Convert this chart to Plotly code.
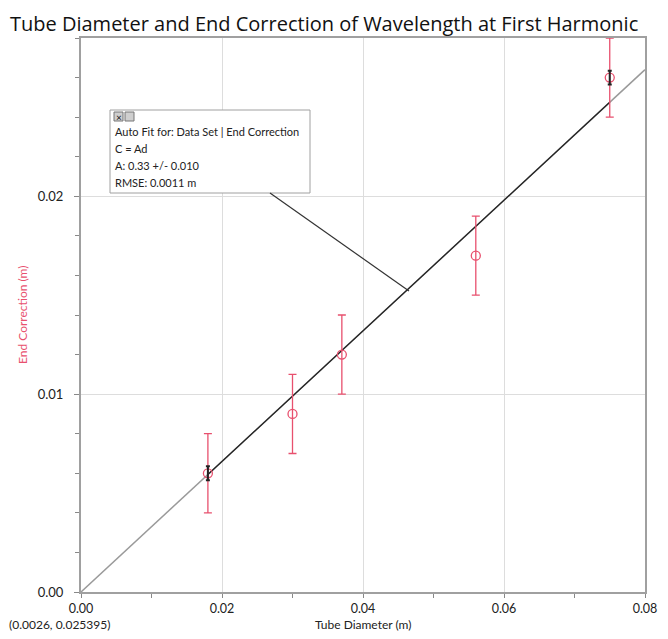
import plotly.graph_objects as go

# Data
diameter = [0.018, 0.030, 0.037, 0.056, 0.075]
end_corr = [0.006, 0.009, 0.012, 0.017, 0.026]
end_err = [0.002, 0.002, 0.002, 0.002, 0.002]
fit_A = 0.33
fit_x_all = [0.0, 0.08]
fit_x_sel = [0.018, 0.075]
bracket_x = [0.018, 0.075]
bracket_y = [0.006, 0.026]
bracket_err = [0.00035, 0.00035]
x_ticks = [0.00, 0.02, 0.04, 0.06, 0.08]
y_ticks = [0.00, 0.01, 0.02]

RED = "#e8506e"
OFF = 8  # page body margin (both sides)
W, H = 668 - 2 * OFF, 639 - 2 * OFF
# reference pixel positions of plot area (in window coords)
RL, RR, RT, RB = 81, 645, 38, 592
L, T = RL - OFF, RT - OFF
R = W - (RR - OFF)
B = H - (RB - OFF)

fig = go.Figure()
fig.add_trace(go.Scatter(x=fit_x_all, y=[fit_A * v for v in fit_x_all], mode="lines",
                         line=dict(color="#9a9a9a", width=1.5), hoverinfo="skip", showlegend=False))
fig.add_trace(go.Scatter(x=fit_x_sel, y=[fit_A * v for v in fit_x_sel], mode="lines",
                         line=dict(color="#222222", width=1.3), hoverinfo="skip", showlegend=False))
fig.add_trace(go.Scatter(x=diameter, y=end_corr, mode="markers",
                         marker=dict(symbol="circle-open", size=9, color=RED, line=dict(width=1.3, color=RED)),
                         error_y=dict(type="data", array=end_err, visible=True, color=RED, thickness=1.3, width=4),
                         showlegend=False))
fig.add_trace(go.Scatter(x=bracket_x, y=bracket_y, mode="markers",
                         marker=dict(size=1, opacity=0),
                         error_y=dict(type="data", array=bracket_err, visible=True, color="#222222", thickness=2, width=2),
                         hoverinfo="skip", showlegend=False))

pw = RR - RL
ph = RB - RT
def px(xp):
    return (xp - RL) / pw
def py(yp):
    return (RB - yp) / ph

shapes = []
shapes.append(dict(type="rect", xref="paper", yref="paper", x0=px(110), x1=px(310), y0=py(193), y1=py(110),
                   line=dict(color="#a0a0a0", width=1), fillcolor="white", layer="above"))
shapes.append(dict(type="line", xref="paper", yref="paper", x0=px(270), y0=py(193), x1=px(409), y1=py(291),
                   line=dict(color="#333333", width=1.2), layer="above"))
for bx in (114, 125):
    shapes.append(dict(type="rect", xref="paper", yref="paper", x0=px(bx), x1=px(bx + 9), y0=py(121), y1=py(112),
                       line=dict(color="#777777", width=1), fillcolor="#cfcfcf", layer="above"))

FONT = "Lato, DejaVu Sans, sans-serif"
annotations = []
lines = ["Auto Fit for: Data Set | End Correction", "C = Ad",
         f"A: {fit_A:.2f} +/- 0.010", "RMSE: 0.0011 m"]
for i, t in enumerate(lines):
    annotations.append(dict(text=t, xref="paper", yref="paper", x=px(113), y=py(131 + 17 * i),
                            xanchor="left", yanchor="middle", showarrow=False,
                            font=dict(size=11, color="#222222", family=FONT)))
annotations.append(dict(text="×", xref="paper", yref="paper", x=px(118.5), y=py(116.5), xanchor="center",
                        yanchor="middle", showarrow=False, font=dict(size=10, color="#111111")))
annotations.append(dict(text="(0.0026, 0.025395)", xref="paper", yref="paper", x=px(8), y=py(624),
                        xanchor="left", yanchor="middle", showarrow=False, borderpad=0,
                        font=dict(size=12, color="#222222", family=FONT)))
# axis titles
annotations.append(dict(text="Tube Diameter (m)", xref="paper", yref="paper", x=px(363), y=py(624),
                        xanchor="center", yanchor="middle", showarrow=False, borderpad=0,
                        font=dict(size=12, color="#222222", family=FONT)))
annotations.append(dict(text="End Correction (m)", xref="paper", yref="paper", x=px(22), y=py(315),
                        xanchor="center", yanchor="middle", textangle=-90, showarrow=False,
                        font=dict(size=12, color=RED, family=FONT)))
# chart title
annotations.append(dict(text="Tube Diameter and End Correction of Wavelength at First Harmonic",
                        xref="paper", yref="paper", x=px(8), y=py(OFF), xanchor="left", yanchor="top",
                        showarrow=False,
                        font=dict(size=20, color="#111111", family="Open Sans, DejaVu Sans, sans-serif")))

fig.update_layout(
    width=W, height=H,
    margin=dict(l=L, r=R, t=T, b=B, autoexpand=False),
    paper_bgcolor="white", plot_bgcolor="white",
    font=dict(family=FONT, size=12, color="#222222"),
    shapes=shapes, annotations=annotations,
    xaxis=dict(range=[0, 0.08], tickvals=x_ticks, tickformat=".2f", ticks="outside", ticklen=4,
               tickcolor="#888888", showgrid=True, gridcolor="#dddddd", gridwidth=1, automargin=False,
               showline=True, linecolor="#a0a0a0", linewidth=2, mirror=True, zeroline=False,
               tickfont=dict(size=12.5),
               minor=dict(dtick=0.01, ticks="outside", ticklen=4, tickcolor="#888888", showgrid=False)),
    yaxis=dict(range=[0, 0.028], tickvals=y_ticks, tickformat=".2f", ticks="outside", ticklen=5,
               tickcolor="#888888", showgrid=True, gridcolor="#dddddd", gridwidth=1, automargin=False,
               showline=True, linecolor="#a0a0a0", linewidth=2, mirror=True, zeroline=False,
               tickfont=dict(size=13), ticklabelstandoff=8,
               minor=dict(dtick=0.002, ticks="outside", ticklen=4, tickcolor="#888888", showgrid=False)),
)

fig.write_html("out.html")
